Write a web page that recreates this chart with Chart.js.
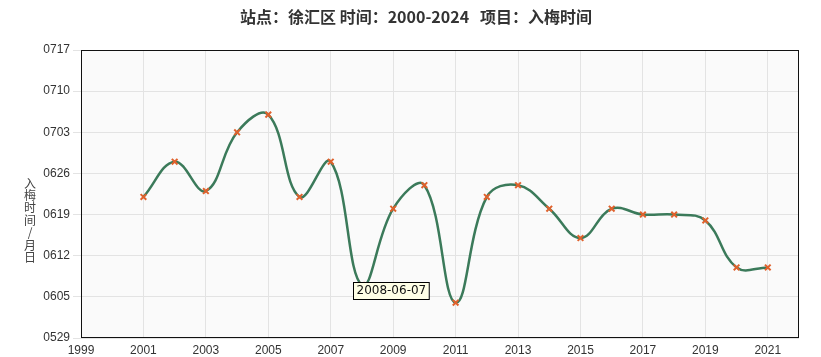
<!DOCTYPE html>
<html>
<head>
<meta charset="utf-8">
<script src="https://cdn.jsdelivr.net/npm/chart.js@4"></script>
<style>
html,body{margin:0;padding:0;background:#fff;}
#wrap{width:821px;height:357px;position:relative;}
</style>
</head>
<body>
<div id="wrap"><canvas id="c"></canvas></div>
<script>
const chartTitle = '站点：徐汇区 时间：2000-2024   项目：入梅时间';
const yAxisTitle = ['入','梅','时','间','/','月','日'];
const years = [2001,2002,2003,2004,2005,2006,2007,2008,2009,2010,2011,2012,2013,2014,2015,2016,2017,2018,2019,2020,2021];
const dates = ['06-22','06-28','06-23','07-03','07-06','06-22','06-28','06-07','06-20','06-24','06-04','06-22','06-24','06-20','06-15','06-20','06-19','06-19','06-18','06-10','06-10'];
const xTicks = [1999,2001,2003,2005,2007,2009,2011,2013,2015,2017,2019,2021];
const yTickLabels = ['0529','0605','0612','0619','0626','0703','0710','0717'];
const tooltipYear = 2008;

const base = Date.UTC(2001,4,29);
function toOffset(md){ const p = md.split('-'); return (Date.UTC(2001, +p[0]-1, +p[1]) - base)/86400000; }
function tickOffset(s){ return toOffset(s.slice(0,2)+'-'+s.slice(2)); }
const yTickVals = yTickLabels.map(tickOffset);
const points = years.map((y,i)=>({x:y, y:toOffset(dates[i])}));

const decor = {
  id:'decor',
  beforeDraw(chart){
    const {ctx, chartArea:a} = chart;
    ctx.save();
    ctx.fillStyle = '#fafafa';
    ctx.fillRect(a.left, a.top, a.right-a.left, a.bottom-a.top);
    ctx.restore();
  },
  afterDatasetsDraw(chart){
    const {ctx, chartArea:a} = chart;
    ctx.save();
    ctx.strokeStyle = '#111';
    ctx.lineWidth = 1;
    ctx.strokeRect(Math.round(a.left)+0.5, Math.round(a.top)+0.5, Math.round(a.right-a.left)-1, Math.round(a.bottom-a.top)-1);
    ctx.restore();
  },
  afterDraw(chart){
    const {ctx} = chart;
    ctx.save();
    ctx.fillStyle = '#333';
    ctx.font = 'bold 16px "Noto Sans CJK SC", "Noto Sans", sans-serif';
    ctx.textAlign = 'center';
    ctx.textBaseline = 'middle';
    ctx.fillText(chartTitle, 416, 17);
    ctx.font = '12px "Noto Sans CJK SC", sans-serif';
    ctx.fillStyle = '#444';
    yAxisTitle.forEach((ch,i)=>{ ctx.fillText(ch, 30, 183 + i*12.4); });
    const idx = years.indexOf(tooltipYear);
    const meta = chart.getDatasetMeta(0);
    const el = meta.data[idx];
    const label = years[idx] + '-' + dates[idx];
    ctx.font = '12px "DejaVu Sans", sans-serif';
    const w = ctx.measureText(label).width + 6;
    const bx = Math.round(el.x - 9), by = Math.round(el.y - 3);
    ctx.fillStyle = '#ffffe6';
    ctx.fillRect(bx, by, w, 17);
    ctx.strokeStyle = '#000';
    ctx.lineWidth = 1;
    ctx.strokeRect(bx+0.5, by+0.5, w, 17);
    ctx.fillStyle = '#111';
    ctx.textAlign = 'left';
    ctx.fillText(label, bx+3.5, by+9);
    ctx.restore();
  }
};

new Chart(document.getElementById('c'), {
  type:'line',
  data:{ datasets:[{
    data: points,
    borderColor:'#3b7a5a',
    borderWidth:2.5,
    tension:0.4,
    pointStyle:'crossRot',
    pointRadius:4,
    pointBorderColor:'#e0612c',
    pointBorderWidth:2,
    fill:false
  }]},
  options:{
    responsive:true,
    maintainAspectRatio:false,
    animation:false,
    layout:{ padding:{ top:50, right:22, left:0, bottom:0 } },
    plugins:{ legend:{display:false}, tooltip:{enabled:false}, title:{display:false} },
    scales:{
      x:{
        type:'linear', min:1999, max:2022,
        afterBuildTicks(s){ s.ticks = xTicks.map(v=>({value:v})); },
        afterFit(s){ s.height = 19; },
        grid:{ color:'#e3e3e3', drawTicks:false },
        border:{ display:false },
        ticks:{ padding:5, color:'#333', font:{ size:12, family:'"Liberation Sans", Arial, sans-serif' }, autoSkip:false, maxRotation:0, callback:v=>String(v) }
      },
      y:{
        type:'linear', min:yTickVals[0], max:yTickVals[yTickVals.length-1],
        afterBuildTicks(s){ s.ticks = yTickVals.map(v=>({value:v})); },
        afterFit(s){ s.width = 81; },
        grid:{ color:'#e3e3e3', tickLength:8 },
        border:{ display:false },
        ticks:{ padding:3, color:'#333', font:{ size:12, family:'"Liberation Sans", Arial, sans-serif' },
          callback:(v)=>{ const i = yTickVals.indexOf(v); return i>=0 ? yTickLabels[i] : ''; } }
      }
    }
  },
  plugins:[decor]
});
</script>
</body>
</html>
